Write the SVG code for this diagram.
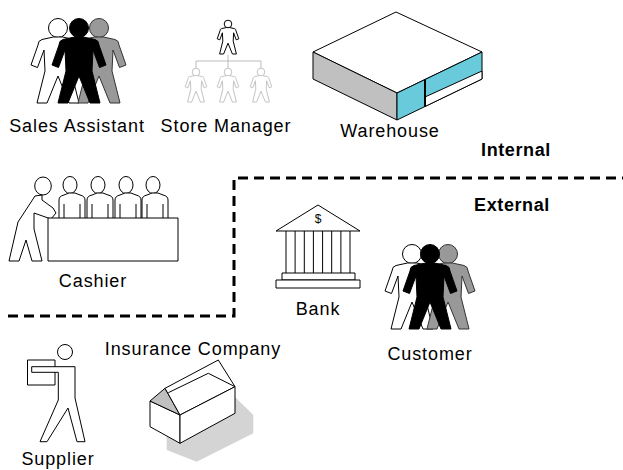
<svg xmlns="http://www.w3.org/2000/svg" xmlns:xlink="http://www.w3.org/1999/xlink" width="623" height="470" viewBox="0 0 623 470">
  <style>
    .lbl { font-family: "Liberation Sans", Arial, sans-serif; font-size: 18px; letter-spacing: 0.9px; fill: #000; text-anchor: middle; }
    .zone { font-weight: bold; letter-spacing: 0.6px; }
    .ln { fill: #fff; stroke: #000; stroke-width: 1; stroke-linejoin: round; }
    .boundary { fill: none; stroke: #000; stroke-width: 3; stroke-dasharray: 10 6; }
  </style>
  <defs>
    <!-- standing figure, head centred on the origin, feet at y=75 -->
    <g id="person">
      <circle cx="0" cy="0" r="9.5"/>
      <path d="M -4.5,9 L -16,11.5 Q -20,12.5 -20,17 L -27,37 L -20.5,39.5 L -14,22 L -13,43 L -21,75 L -11,75 L 0,48 L 11,75 L 21,75 L 13,43 L 14,22 L 20.5,39.5 L 27,37 L 20,17 Q 20,12.5 16,11.5 L 4.5,9 Z"/>
    </g>
    <!-- seated figure behind the counter -->
    <g id="seated">
      <path d="M -13,33 V 15 Q -13,11 -8,10 L -3,8 L 3,8 L 8,10 Q 13,11 13,15 V 33" fill="#fff" stroke="#000" stroke-width="1"/>
      <path d="M -8,19 V 33 M 8,19 V 33" fill="none" stroke="#000" stroke-width="1"/>
    </g>
  </defs>

  <!-- boundary between internal and external parties -->
  <g id="connectors">
    <path class="boundary" d="M 8,316 H 234 V 178 H 623"/>
    <!-- reporting lines of the store manager -->
    <path d="M 228,55 V 61 M 196,61 H 261 M 196,61 V 68 M 228,61 V 68 M 261,61 V 68" fill="none" stroke="#bbb" stroke-width="1"/>
  </g>

  <g id="sales-assistant">
    <use xlink:href="#person" transform="translate(58,28)" fill="#fff" stroke="#000" stroke-width="1"/>
    <use xlink:href="#person" transform="translate(99,28)" fill="#999" stroke="#333" stroke-width="1"/>
    <use xlink:href="#person" transform="translate(79,28)" fill="#000" stroke="#000" stroke-width="1"/>
    <text class="lbl" x="77" y="132">Sales Assistant</text>
  </g>

  <g id="store-manager">
    <use xlink:href="#person" transform="translate(228,24) scale(0.4)" fill="#fff" stroke="#000" stroke-width="2.5"/>
    <use xlink:href="#person" transform="translate(196,72) scale(0.4)" fill="#fff" stroke="#c4c4c4" stroke-width="2.5"/>
    <use xlink:href="#person" transform="translate(228,72) scale(0.4)" fill="#fff" stroke="#c4c4c4" stroke-width="2.5"/>
    <use xlink:href="#person" transform="translate(261,72) scale(0.4)" fill="#fff" stroke="#c4c4c4" stroke-width="2.5"/>
    <text class="lbl" x="226" y="132">Store Manager</text>
  </g>

  <g id="warehouse">
    <polygon class="ln" points="313,52 396,12 482,52 397,93"/>
    <polygon points="313,52 397,93 397,120 313,79" fill="#c0c0c0" stroke="#000" stroke-width="1" stroke-linejoin="round"/>
    <polygon points="397,93 482,52 482,79 397,120" fill="#68cadb" stroke="#000" stroke-width="1" stroke-linejoin="round"/>
    <polygon class="ln" points="425,97 482,71 482,79 425,106.5"/>
    <line x1="425" y1="79.5" x2="425" y2="106.5" stroke="#000" stroke-width="2"/>
    <text class="lbl" x="390" y="137">Warehouse</text>
  </g>

  <text id="internal" class="lbl zone" x="516" y="156">Internal</text>
  <text id="external" class="lbl zone" x="512" y="211">External</text>

  <g id="cashier">
    <ellipse class="ln" cx="43" cy="186" rx="8.3" ry="9"/>
    <path class="ln" d="M 35,196 L 18,222 L 9,261 L 19,261 L 26,240 L 32,261 L 42,261 L 34,229 L 34,213 L 51,219 L 56,213 L 53,208 L 42,200 L 42,195 Z"/>
    <ellipse class="ln" cx="70" cy="185" rx="7" ry="8.5"/>
    <ellipse class="ln" cx="98" cy="185" rx="7" ry="8.5"/>
    <ellipse class="ln" cx="126" cy="185" rx="7" ry="8.5"/>
    <ellipse class="ln" cx="153" cy="185" rx="7" ry="8.5"/>
    <use xlink:href="#seated" transform="translate(72,185)"/>
    <use xlink:href="#seated" transform="translate(100,185)"/>
    <use xlink:href="#seated" transform="translate(128,185)"/>
    <use xlink:href="#seated" transform="translate(155,185)"/>
    <rect class="ln" x="48" y="218" width="130" height="43"/>
    <text class="lbl" x="93" y="287">Cashier</text>
  </g>

  <g id="bank">
    <polygon class="ln" points="276,231 318,205 360,231"/>
    <text x="318" y="223" font-family="Liberation Sans, Arial, sans-serif" font-size="12" text-anchor="middle">$</text>
    <path d="M 286,231 V 273 M 295.1,231 V 273 M 304.3,231 V 273 M 313.4,231 V 273 M 322.6,231 V 273 M 331.7,231 V 273 M 340.9,231 V 273 M 350,231 V 273" fill="none" stroke="#000" stroke-width="1"/>
    <rect class="ln" x="282" y="273" width="73" height="7"/>
    <rect class="ln" x="276" y="280" width="84" height="8"/>
    <text class="lbl" x="318" y="315">Bank</text>
  </g>

  <g id="customer">
    <use xlink:href="#person" transform="translate(412,254)" fill="#fff" stroke="#000" stroke-width="1"/>
    <use xlink:href="#person" transform="translate(448,254)" fill="#999" stroke="#333" stroke-width="1"/>
    <use xlink:href="#person" transform="translate(430,254)" fill="#000" stroke="#000" stroke-width="1"/>
    <text class="lbl" x="430" y="360">Customer</text>
  </g>

  <g id="insurance-company">
    <polygon points="166.7,428 166.7,450 196.7,461.7 253.3,433.3 253.3,415 235,397" fill="#d4d4d4"/>
    <polygon class="ln" points="150,401 180,415 180,443.3 150,426.7"/>
    <polygon points="150,401 165,388.3 180,415" fill="#c0c0c0" stroke="#000" stroke-width="1" stroke-linejoin="round"/>
    <polygon class="ln" points="165,388.3 218.3,360 235,386.7 180,415"/>
    <polyline points="168.3,392.7 208.3,373.3 235,386.7" fill="none" stroke="#000" stroke-width="1"/>
    <polygon class="ln" points="180,415 235,386.7 235,413.3 180,443.3"/>
    <text class="lbl" x="193" y="355">Insurance Company</text>
  </g>

  <g id="supplier">
    <circle class="ln" cx="65" cy="352" r="7.5"/>
    <rect class="ln" x="27.5" y="360" width="27.5" height="25"/>
    <path class="ln" d="M 31.7,366.7 L 75,366.7 L 75,398 L 85,441.7 L 77,441.7 L 68,408 L 47,441.7 L 40,441.7 L 58.3,400 L 58.3,372.3 L 31.7,372.3 Z"/>
    <text class="lbl" x="58" y="465">Supplier</text>
  </g>
</svg>
